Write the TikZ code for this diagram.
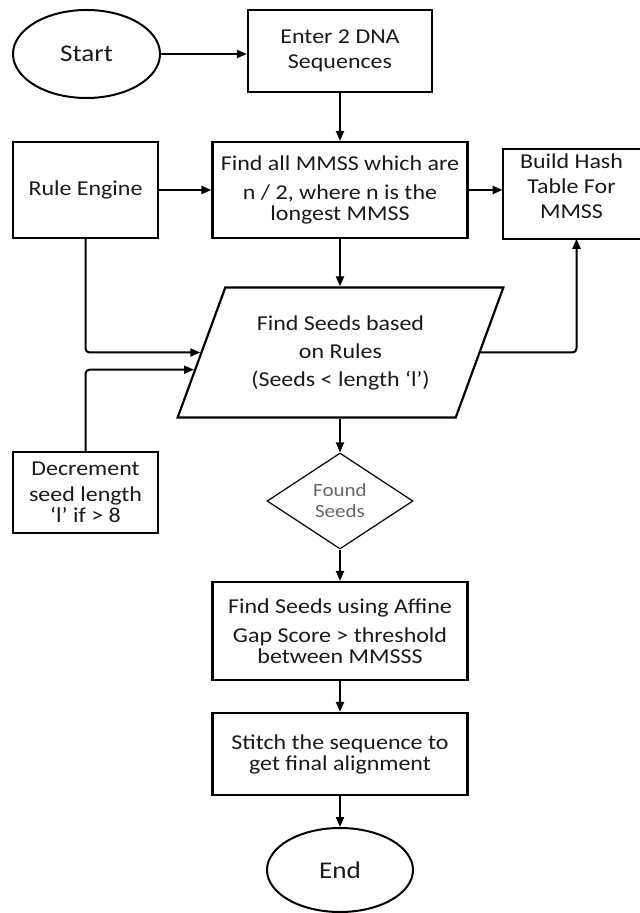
\documentclass[tikz,border=0pt]{standalone}
\usepackage{fontspec}
\setmainfont{Carlito}[FakeStretch=1.13]
\usetikzlibrary{shapes.geometric,arrows.meta,calc}
\tikzset{
  procbox/.style={draw, line width=1.1pt, minimum width=127.5pt, align=center, inner sep=2pt, text=black!90},
  termnode/.style={ellipse, draw, line width=1pt, inner sep=0pt, text=black!90, font=\fontsize{12}{14}\selectfont},
  iobox/.style={trapezium, draw, line width=1.1pt, trapezium left angle=63.6, trapezium right angle=116.4,
    trapezium stretches=true, minimum height=65pt, minimum width=163pt, align=center, inner sep=0pt, text=black!90},
  decnode/.style={diamond, draw, line width=0.6pt, minimum width=73pt, minimum height=48pt, inner sep=0pt,
    align=center, text=black!60, font=\fontsize{9.3}{10.5}\selectfont},
  flowline/.style={line width=1pt, rounded corners=2pt, -{Triangle[length=5pt,width=4pt]}}
}
\begin{document}
\begin{tikzpicture}[x=0.5pt, y=-0.5pt, font=\fontsize{10.6}{12.5}\selectfont]
        \useasboundingbox (0,0) rectangle (640,913);
        \clip (0,0) rectangle (640,913);
        % nodes
        \node[termnode, minimum width=73.5pt, minimum height=44pt] (start) at (86.5,54) {Start};
        \node[procbox, minimum width=92pt, minimum height=41pt] (enter) at (340,51) {Enter 2 DNA\\Sequences};
        \node[procbox, minimum width=72.5pt, minimum height=48pt] (rule) at (85.5,190) {Rule Engine};
        \node[procbox, minimum height=48pt] (findall) at (340,190) {Find all MMSS which are\\[2pt]n / 2, where n is the\\[-2pt]longest MMSS};
        \node[align=center, inner sep=2pt, text=black!90, minimum width=68.5pt, minimum height=37pt] (hash) at (571.5,194) {Build Hash\\Table For\\MMSS\rule[-8pt]{0pt}{8pt}};
        \node[iobox] (seeds) at (340.5,352.5) {Find Seeds based\\[1.5pt]on Rules\\[1.5pt](Seeds < length ‘l’)};
        \node[procbox, minimum width=72.5pt, minimum height=40.5pt] (decr) at (85.5,492.5) {Decrement\\[0.5pt]seed length\\[-2pt]‘l’ if > 8};
        \node[decnode] (found) at (340,501) {Found\\Seeds};
        \node[procbox, minimum height=49pt] (affine) at (340,631) {Find Seeds using Affine\\[2pt]Gap Score > threshold\\[-2pt]between MMSSS};
        \node[procbox, minimum height=41pt] (stitch) at (340,754) {Stitch the sequence to\\[-2pt]get final alignment};
        \node[termnode, minimum width=73pt, minimum height=42pt] (end) at (340,870) {End};
        % hash box runs off the right edge
        \draw[line width=1.1pt] ([xshift=12pt]hash.north east) -- (hash.north west) -- (hash.south west) -- ([xshift=12pt]hash.south east);
        % arrows
        \draw[flowline] (start.east) -- (start.east -| enter.west);
        \draw[flowline] (enter) -- (findall);
        \draw[flowline] (rule) -- (findall);
        \draw[flowline] (findall.east) -- (findall.east -| hash.west);
        \draw[flowline] (findall.south) -- (findall.south |- seeds.north);
        \draw[flowline] (rule.south) |- (seeds.west);
        \draw[flowline] (decr.north) |- ($(seeds.bottom left corner)!0.37!(seeds.top left corner)$);
        \draw[flowline] (seeds.east) -| ([xshift=2.5pt]hash.south);
        \draw[flowline] (found.north |- seeds.south) -- (found.north);
        \draw[flowline] (found) -- (affine);
        \draw[flowline] (affine) -- (stitch);
        \draw[flowline] (stitch) -- (end);
\end{tikzpicture}
\end{document}
